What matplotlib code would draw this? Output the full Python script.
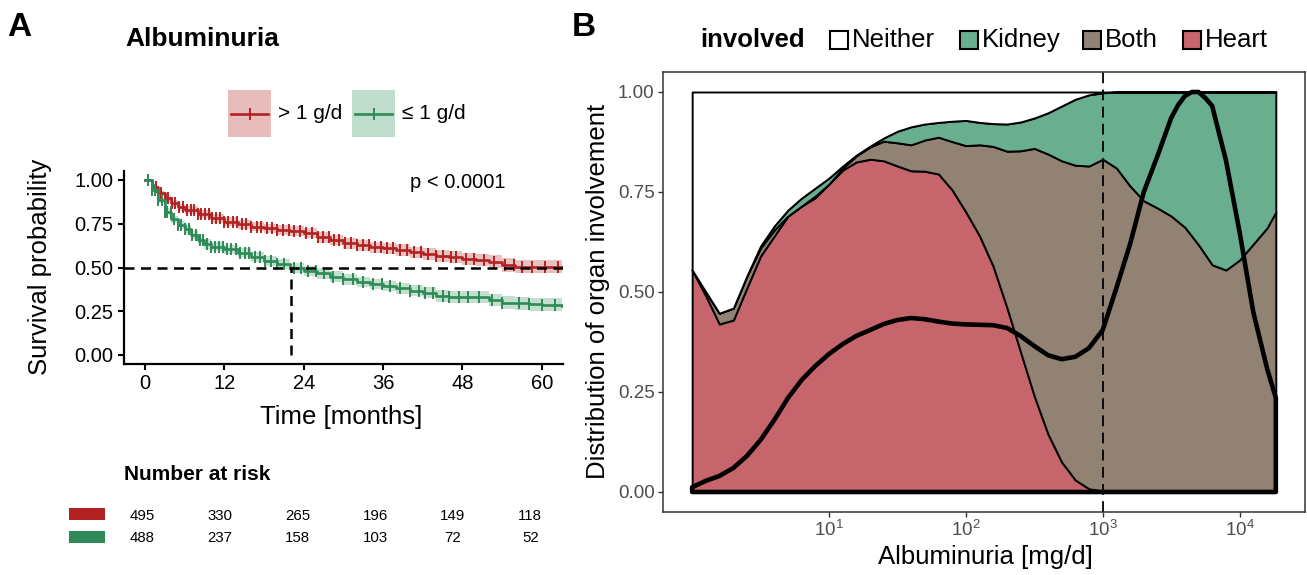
import matplotlib
matplotlib.use("Agg")
import matplotlib.pyplot as plt
import numpy as np
from matplotlib.patches import Rectangle
from matplotlib.lines import Line2D
from matplotlib.ticker import NullLocator, FixedLocator

plt.rcParams['font.family'] = ['Liberation Sans', 'DejaVu Sans']

# ---------------- Panel A data (Kaplan-Meier) ----------------
red_t = [0, 1, 2, 3, 4, 5, 6, 8, 10, 12, 14, 16, 18, 20, 22, 24, 26, 28, 30, 32, 34,
         36, 38, 40, 42, 44, 46, 48, 50, 52, 54, 56, 63]
red_s = [1.0, 0.962, 0.924, 0.895, 0.867, 0.844, 0.829, 0.804, 0.781, 0.762, 0.747,
         0.733, 0.724, 0.714, 0.709, 0.699, 0.672, 0.657, 0.638, 0.627, 0.615, 0.610,
         0.600, 0.587, 0.575, 0.566, 0.558, 0.550, 0.543, 0.533, 0.514, 0.505, 0.505]
red_ci = [0, 0.01, 0.015, 0.018, 0.02, 0.021, 0.022, 0.023, 0.024, 0.025, 0.026, 0.027,
          0.027, 0.028, 0.028, 0.029, 0.03, 0.03, 0.031, 0.031, 0.032, 0.032, 0.033,
          0.033, 0.034, 0.034, 0.035, 0.035, 0.036, 0.037, 0.038, 0.039, 0.04]
red_cens = [1.6, 2.4, 3.0, 3.5, 4.1, 4.6, 5.2, 5.7, 6.3, 6.9, 7.4, 8.0, 8.5, 9.1, 9.7,
            10.2, 10.8, 11.4, 12.0, 12.6, 13.3, 13.9, 14.6, 15.3, 16.1, 16.9, 17.6,
            18.4, 19.2, 20.0, 20.9, 21.8, 22.6, 23.5, 24.4, 25.3, 26.1, 26.9, 27.8,
            28.6, 29.4, 30.3, 31.1, 32.0, 32.9, 33.8, 34.8, 35.7, 36.6, 37.5, 38.6,
            39.6, 40.6, 41.7, 42.8, 44.0, 45.1, 46.3, 47.0, 48.5, 49.8, 51.3, 52.8,
            54.5, 55.8, 57.0, 58.5, 60.5, 62.5]

grn_t = [0, 1, 2, 3, 4, 5, 6, 7, 8, 9, 10, 12, 14, 16, 18, 20, 22, 24, 26, 28, 30, 32,
         34, 36, 38, 40, 42, 44, 46, 48, 50, 52, 54, 56, 58, 60, 63]
grn_s = [1.0, 0.943, 0.886, 0.819, 0.775, 0.743, 0.718, 0.686, 0.657, 0.634, 0.619,
         0.604, 0.585, 0.562, 0.537, 0.52, 0.498, 0.482, 0.467, 0.448, 0.432, 0.417,
         0.406, 0.394, 0.381, 0.368, 0.356, 0.337, 0.333, 0.333, 0.330, 0.314, 0.299,
         0.295, 0.291, 0.286, 0.282]
grn_ci = [0, 0.012, 0.018, 0.02, 0.022, 0.023, 0.024, 0.025, 0.025, 0.026, 0.026,
          0.027, 0.027, 0.028, 0.028, 0.028, 0.029, 0.029, 0.03, 0.03, 0.03, 0.031,
          0.031, 0.031, 0.032, 0.032, 0.033, 0.033, 0.034, 0.034, 0.035, 0.035, 0.036,
          0.036, 0.037, 0.037, 0.038]
grn_cens = [0.5, 1.0, 1.5, 2.0, 2.5, 3.0, 3.4, 3.9, 4.4, 5.0, 5.5, 6.0, 6.6, 7.1, 7.7,
            8.3, 8.8, 9.4, 10.0, 10.6, 11.2, 11.8, 12.4, 13.0, 13.7, 14.4, 15.1, 15.8,
            16.6, 17.4, 18.2, 19.1, 20.0, 21.0, 22.5, 23.6, 24.6, 25.8, 27.0, 28.5,
            30.0, 31.5, 33.0, 34.5, 35.8, 37.0, 38.5, 40.0, 41.5, 42.3, 43.5, 45.0,
            46.0, 47.5, 48.8, 50.5, 52.5, 54.0, 56.5, 58.0, 60.0, 62.0]

median_time = 22.1
risk_times = [0, 12, 24, 36, 48, 60]
risk_red = [495, 330, 265, 196, 149, 118]
risk_grn = [488, 237, 158, 103, 72, 52]
group_labels = ["> 1 g/d", "\u2264 1 g/d"]

# ---------------- Panel B data (conditional density) ----------------
albuminuria = [1, 1.26, 1.58, 2.0, 2.51, 3.16, 3.98, 5.01, 6.31, 7.94, 10, 12.6, 15.8,
               20, 25.1, 31.6, 39.8, 50.1, 63.1, 79.4, 100, 126, 158, 200, 251, 316, 398,
               501, 631, 794, 1000, 1259, 1585, 1995, 2512, 3162, 3981, 5012, 6310, 7943,
               10000, 12589, 15849, 18400]
share_heart = [0.555, 0.49, 0.42, 0.43, 0.51, 0.59, 0.64, 0.69, 0.715, 0.736, 0.77,
               0.805, 0.825, 0.832, 0.828, 0.815, 0.803, 0.802, 0.795, 0.755, 0.70,
               0.64, 0.565, 0.46, 0.35, 0.24, 0.145, 0.075, 0.03, 0.008, 0.003,
               0, 0, 0, 0, 0, 0, 0, 0, 0, 0, 0, 0, 0]
share_both = [0, 0.01, 0.027, 0.03, 0.03, 0.02, 0.015, 0, 0, 0.004, 0, 0.005, 0.015,
              0.031, 0.049, 0.058, 0.065, 0.078, 0.092, 0.121, 0.166, 0.228, 0.299,
              0.392, 0.503, 0.619, 0.70, 0.753, 0.787, 0.807, 0.829, 0.81, 0.765, 0.728,
              0.71, 0.69, 0.662, 0.618, 0.568, 0.555, 0.58, 0.62, 0.66, 0.70]
share_kidney = [0, 0, 0, 0, 0, 0.005, 0.01, 0.015, 0.02, 0.02, 0.015, 0.005, 0.002,
                0.002, 0.008, 0.029, 0.045, 0.04, 0.037, 0.051, 0.063, 0.056, 0.057,
                0.068, 0.072, 0.076, 0.103, 0.137, 0.165, 0.178, 0.166, 0.19, 0.235,
                0.272, 0.29, 0.31, 0.338, 0.382, 0.432, 0.445, 0.42, 0.38, 0.34, 0.30]
density_albuminuria = [1, 1.26, 1.58, 2.0, 2.51, 3.16, 3.98, 5.01, 6.31, 7.94, 10,
                       12.6, 15.8, 20, 25.1, 31.6, 39.8, 50.1, 63.1, 79.4, 100, 126,
                       158, 200, 251, 316, 398, 501, 631, 794, 1000, 1259, 1585, 1995,
                       2512, 3162, 3548, 3981, 4467, 5012, 5623, 6310, 7079, 7943,
                       10000, 12589, 15849, 18400]
density_scaled = [0.012, 0.028, 0.04, 0.06, 0.09, 0.13, 0.18, 0.235, 0.28, 0.315, 0.345,
                  0.37, 0.39, 0.405, 0.42, 0.43, 0.435, 0.432, 0.426, 0.421, 0.419,
                  0.418, 0.417, 0.41, 0.39, 0.365, 0.342, 0.332, 0.338, 0.36, 0.405,
                  0.51, 0.62, 0.75, 0.84, 0.935, 0.967, 0.99, 1.0, 1.0, 0.985, 0.965,
                  0.897, 0.83, 0.65, 0.45, 0.31, 0.235]
categories = ["Neither", "Kidney", "Both", "Heart"]
cat_colors = {"Neither": "#FFFFFF", "Kidney": "#69AE8E", "Both": "#918273",
              "Heart": "#C6656C"}
threshold = 1000

RED = "#B22222"
GRN = "#2E8B57"

W, H = 1307, 575
fig = plt.figure(figsize=(W / 100, H / 100), dpi=100)


def fx(px):
    return px / W


def fy(py):
    return 1 - py / H


# ================= Panel A =================
axA = fig.add_axes([fx(124), fy(363.75), (563 - 124) / W, 192.5 / H])
axA.set_xlim(-3.17, 63.2)
axA.set_ylim(-0.05, 1.05)


def step_at(ts, ss, q):
    ts = np.asarray(ts)
    idx = np.searchsorted(ts, q, side='right') - 1
    return np.asarray(ss)[idx]


for t, s, ci, cens, col in [(red_t, red_s, red_ci, red_cens, RED),
                            (grn_t, grn_s, grn_ci, grn_cens, GRN)]:
    t = np.asarray(t, float)
    s = np.asarray(s, float)
    ci = np.asarray(ci, float)
    axA.fill_between(t, np.clip(s - ci, 0, 1), np.clip(s + ci, 0, 1), step='post',
                     color=col, alpha=0.28, lw=0)
    axA.step(t, s, where='post', color=col, lw=1.9)
    axA.plot(cens, step_at(t, s, cens), ls='none', marker='|', ms=8, mew=1.4,
             color=col)

axA.plot([-3.17, 63.2], [0.5, 0.5], color='black', lw=1.8, ls=(0, (4, 2.6)))
axA.plot([median_time, median_time], [0, 0.5], color='black', lw=1.8,
         ls=(0, (4, 2.6)))
axA.text(40, 0.985, "p < 0.0001", fontsize=14.5, va='center', ha='left')

for sp in ['top', 'right']:
    axA.spines[sp].set_visible(False)
for sp in ['left', 'bottom']:
    axA.spines[sp].set_linewidth(1.6)
axA.set_xticks([0, 12, 24, 36, 48, 60])
axA.set_yticks([0, 0.25, 0.5, 0.75, 1.0])
axA.set_yticklabels(["0.00", "0.25", "0.50", "0.75", "1.00"])
axA.tick_params(axis='both', labelsize=14.5, length=4.5, width=1.5, colors='black',
                pad=3)

fig.text(fx(40), fy(267), "Survival probability", rotation=90, fontsize=18.5,
         ha='center', va='center')
fig.text(fx(341), fy(417), "Time [months]", fontsize=18.5, ha='center',
         va='center')
fig.text(fx(7), fy(28), "A", fontsize=24, fontweight='bold', ha='left',
         va='center')
fig.text(fx(125), fy(39), "Albuminuria", fontsize=19, fontweight='bold', ha='left',
         va='center')

# legend A
for x0, col, lab in [(228, RED, group_labels[0]), (352, GRN, group_labels[1])]:
    fig.patches.append(Rectangle((fx(x0), fy(137)), 43 / W, 47 / H,
                                 transform=fig.transFigure, facecolor=col,
                                 alpha=0.3, lw=0))
    fig.lines.append(Line2D([fx(x0 + 3), fx(x0 + 40)], [fy(113.5), fy(113.5)],
                            transform=fig.transFigure, color=col, lw=1.9))
    fig.lines.append(Line2D([fx(x0 + 21.5)], [fy(113.5)], transform=fig.transFigure,
                            color=col, marker='|', ms=8, mew=1.4, ls='none'))
    fig.text(fx(x0 + 50), fy(113.5), lab, fontsize=15, ha='left', va='center')

# risk table
fig.text(fx(124), fy(474), "Number at risk", fontsize=15, fontweight='bold',
         ha='left', va='center')
axR = fig.add_axes([fx(121.8), fy(550), (551 - 121.8) / W, 50 / H])
axR.set_xlim(-3.17, 63.2)
axR.set_ylim(0, 1)
axR.axis('off')
for vals, yy in [(risk_red, 0.68), (risk_grn, 0.24)]:
    for tt, v in zip(risk_times, vals):
        axR.text(tt, yy, str(v), fontsize=10.8, ha='center', va='center')
fig.patches.append(Rectangle((fx(69), fy(520)), 36 / W, 12 / H,
                             transform=fig.transFigure, facecolor=RED, lw=0))
fig.patches.append(Rectangle((fx(69), fy(543)), 36 / W, 12 / H,
                             transform=fig.transFigure, facecolor=GRN, lw=0))

# ================= Panel B =================
axB = fig.add_axes([fx(663), fy(512), 642 / W, 440 / H])
axB.set_xscale('log')
axB.set_xlim(10 ** -0.213, 10 ** 4.478)
axB.set_ylim(-0.05, 1.05)

x = np.asarray(albuminuria, float)
shares = {"Heart": np.asarray(share_heart), "Both": np.asarray(share_both),
          "Kidney": np.asarray(share_kidney)}
shares["Neither"] = 1 - shares["Heart"] - shares["Both"] - shares["Kidney"]
base = np.zeros_like(x)
for cat in ["Heart", "Both", "Kidney", "Neither"]:
    top = base + shares[cat]
    axB.fill_between(x, base, top, facecolor=cat_colors[cat], edgecolor='black',
                     lw=1.4, joinstyle='round')
    base = top

axB.fill_between(np.asarray(density_albuminuria, float), 0, density_scaled,
                 facecolor='none', edgecolor='black', lw=3.3, joinstyle='round')
axB.axvline(threshold, color='black', lw=1.3, ls=(0, (6, 3.5)))

for sp in axB.spines.values():
    sp.set_color('#333333')
    sp.set_linewidth(1.1)
axB.xaxis.set_major_locator(FixedLocator([10, 100, 1000, 10000]))
axB.xaxis.set_minor_locator(NullLocator())
axB.set_yticks([0, 0.25, 0.5, 0.75, 1.0])
axB.set_yticklabels(["0.00", "0.25", "0.50", "0.75", "1.00"])
axB.tick_params(axis='both', labelsize=13.5, length=3.5, width=1.0,
                color='#333333', labelcolor='#4D4D4D', pad=2.5)

fig.text(fx(598), fy(291), "Distribution of organ involvement", rotation=90,
         fontsize=18.5, ha='center', va='center')
fig.text(fx(985), fy(557), "Albuminuria [mg/d]", fontsize=18.5, ha='center',
         va='center')
fig.text(fx(572), fy(28), "B", fontsize=24, fontweight='bold', ha='left',
         va='center')

# legend B
fig.text(fx(700), fy(40), "involved", fontsize=18.5, fontweight='bold', ha='left',
         va='center')
for x0, cat in zip([830, 960, 1083, 1183], categories):
    fig.patches.append(Rectangle((fx(x0), fy(49)), 18 / W, 18 / H,
                                 transform=fig.transFigure,
                                 facecolor=cat_colors[cat], edgecolor='black',
                                 lw=1.5))
    fig.text(fx(x0 + 22), fy(40), cat, fontsize=18.5, ha='left', va='center')

fig.savefig("out.png", dpi=100)
